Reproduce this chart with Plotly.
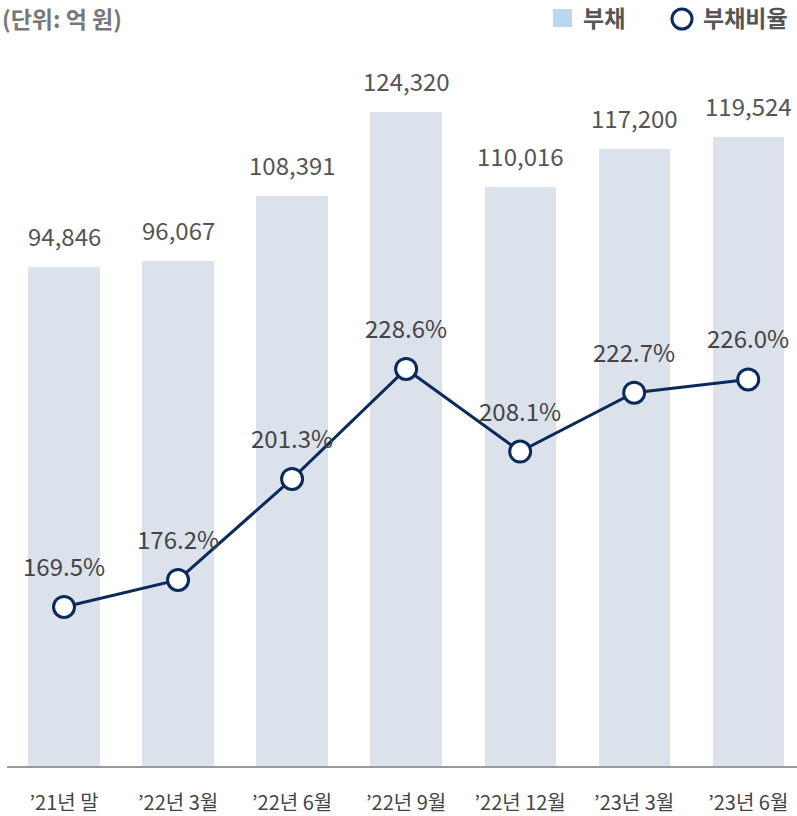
import plotly.graph_objects as go

# 데이터
periods = ["’21년 말", "’22년 3월", "’22년 6월", "’22년 9월", "’22년 12월", "’23년 3월", "’23년 6월"]
debt = [94846, 96067, 108391, 124320, 110016, 117200, 119524]
debt_ratio = [169.5, 176.2, 201.3, 228.6, 208.1, 222.7, 226.0]

FONT = "Noto Sans CJK KR"
NAVY = "#0b2a5b"
BAR = "#dbe2eb"

fig = go.Figure()

fig.add_trace(go.Bar(
    x=periods, y=debt, width=0.625,
    marker=dict(color=BAR, line=dict(width=0)),
    hoverinfo="skip", showlegend=False,
))

fig.add_trace(go.Scatter(
    x=periods, y=debt_ratio, yaxis="y2", mode="lines+markers",
    line=dict(color=NAVY, width=3),
    marker=dict(size=21, color="white", line=dict(color=NAVY, width=3)),
    hoverinfo="skip", showlegend=False,
))

annotations = []
# bar value labels
for p, v in zip(periods, debt):
    annotations.append(dict(
        x=p, y=v, xref="x", yref="y", text=f"{v:,}", showarrow=False,
        yanchor="bottom", yshift=12, font=dict(family=FONT, size=24, color="#555555"),
    ))
# ratio labels
for p, v in zip(periods, debt_ratio):
    annotations.append(dict(
        x=p, y=v, xref="x", yref="y2", text=f"{v:.1f}%", showarrow=False,
        yanchor="bottom", yshift=22, font=dict(family=FONT, size=24, color="#444444"),
    ))

W, H, L, T, B = 797, 816, 7, 40, 50
pw, ph = W - L, H - T - B

def px2paper(x, y):
    return (x - L) / pw, (H - B - y) / ph

# unit + legend text
ux, uy = px2paper(0, 18)
annotations.append(dict(x=ux, y=uy, xref="paper", yref="paper", xanchor="left", yanchor="middle",
                        text="<b>(단위: 억 원)</b>", showarrow=False,
                        font=dict(family=FONT, size=23, color="#777777")))
for label, lx in [("<b>부채</b>", 581), ("<b>부채비율</b>", 701)]:
    ax, ay = px2paper(lx, 17)
    annotations.append(dict(x=ax, y=ay, xref="paper", yref="paper", xanchor="left",
                            yanchor="middle", text=label, showarrow=False,
                            font=dict(family=FONT, size=23, color="#555555")))

sx0, sy0 = px2paper(553, 27)
sx1, sy1 = px2paper(572, 9)
cx0, cy0 = px2paper(672, 29)
cx1, cy1 = px2paper(692, 9)
shapes = [
    dict(type="rect", xref="paper", yref="paper", x0=sx0, y0=sy0, x1=sx1, y1=sy1,
         fillcolor="#bcd6ee", line=dict(width=0)),
    dict(type="circle", xref="paper", yref="paper", x0=cx0, y0=cy0, x1=cx1, y1=cy1,
         fillcolor="white", line=dict(color=NAVY, width=3)),
]

fig.update_layout(
    width=W, height=H,
    margin=dict(l=L, r=0, t=T, b=B),
    plot_bgcolor="white", paper_bgcolor="white",
    font=dict(family=FONT),
    bargap=0,
    xaxis=dict(
        range=[-0.5, -0.5 + pw / 114.03],
        showline=True, linecolor="#9a9a9a", linewidth=2,
        showgrid=False, zeroline=False, ticks="",
        tickfont=dict(family=FONT, size=20, color="#444444"),
        ticklabelstandoff=18, automargin=False,
    ),
    yaxis=dict(range=[0, 138000], visible=False, showgrid=False, zeroline=False),
    yaxis2=dict(range=[130, 310.3], overlaying="y", visible=False,
                showgrid=False, zeroline=False),
    annotations=annotations,
    shapes=shapes,
)

fig.write_html(
    "out.html",
    config={"displayModeBar": False},
    post_script="document.body.style.margin='0';document.body.style.overflow='hidden';",
)
